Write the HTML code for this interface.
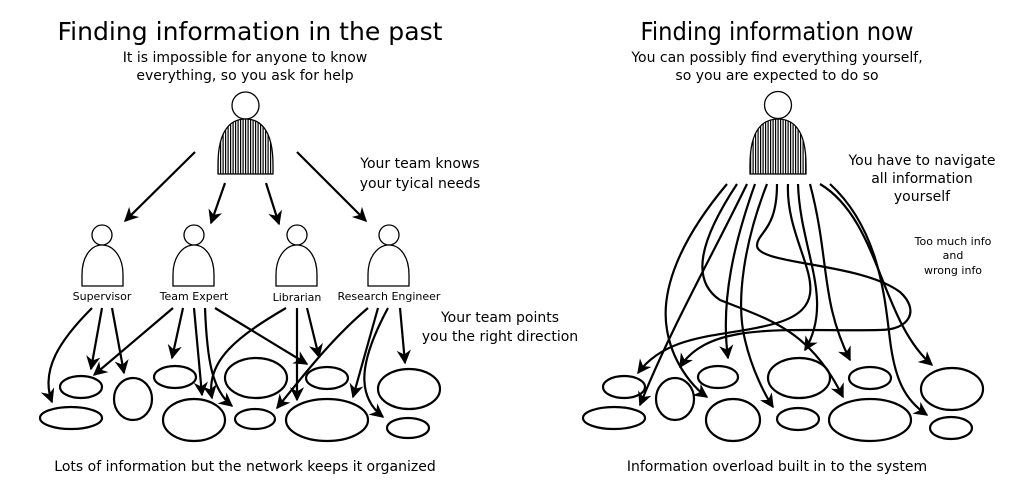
<!DOCTYPE html>
<html><head><meta charset="utf-8"><style>html,body{margin:0;padding:0;background:#fff}svg{display:block}</style></head><body>
<svg width="1024" height="492" viewBox="0 0 1024 492" xmlns="http://www.w3.org/2000/svg" font-family="DejaVu Sans, Liberation Sans, sans-serif">
<defs>
<pattern id="st" width="2.5" height="10" patternUnits="userSpaceOnUse"><rect width="2.5" height="10" fill="#fff"/><rect width="1.2" height="10" fill="#000"/></pattern>
<marker id="ar" viewBox="0 0 10 10" refX="9" refY="5" markerWidth="6.5" markerHeight="6.5" markerUnits="strokeWidth" orient="auto"><path d="M0,0 L10,5 L0,10 L3,5 Z" fill="#000"/></marker>
</defs>
<g fill="#000" text-anchor="middle">
<text x="250" y="40" font-size="25" textLength="385" lengthAdjust="spacingAndGlyphs">Finding information in the past</text>
<text x="245" y="62" font-size="14">It is impossible for anyone to know</text>
<text x="245" y="80" font-size="14">everything, so you ask for help</text>
<text x="777" y="40" font-size="25" textLength="273" lengthAdjust="spacingAndGlyphs">Finding information now</text>
<text x="777" y="62" font-size="14">You can possibly find everything yourself,</text>
<text x="777" y="80" font-size="14">so you are expected to do so</text>
<text x="420" y="168" font-size="14">Your team knows</text>
<text x="420" y="188" font-size="14">your tyical needs</text>
<text x="500" y="322" font-size="14">Your team points</text>
<text x="500" y="341" font-size="14">you the right direction</text>
<text x="245" y="471" font-size="14">Lots of information but the network keeps it organized</text>
<text x="922" y="165" font-size="14">You have to navigate</text>
<text x="922" y="183" font-size="14">all information</text>
<text x="922" y="201" font-size="14">yourself</text>
<text x="953" y="245" font-size="11">Too much info</text>
<text x="953" y="259" font-size="11">and</text>
<text x="953" y="274" font-size="11">wrong info</text>
<text x="777" y="471" font-size="14">Information overload built in to the system</text>
<text x="102" y="300" font-size="11">Supervisor</text>
<text x="194" y="300" font-size="11">Team Expert</text>
<text x="297" y="301" font-size="11">Librarian</text>
<text x="389" y="300" font-size="11">Research Engineer</text>
</g>
<g stroke="#000" stroke-width="1.3">
<circle cx="245.5" cy="105.5" r="13.5" fill="#fff"/>
<path d="M218,174 L218,165 C218,128 232,119 245.5,119 C259,119 273,128 273,165 L273,174 Z" fill="url(#st)"/>
<circle cx="778" cy="105" r="13.5" fill="#fff"/>
<path d="M750,174 L750,165 C750,128 764,119 778,119 C792,119 806,128 806,165 L806,174 Z" fill="url(#st)"/>
<g fill="#fff">
<circle cx="102" cy="235" r="10"/><path d="M82,286 L82,275 C82,255 92,245 102,245 C112,245 123,255 123,275 L123,286 Z"/>
<circle cx="194" cy="235" r="10"/><path d="M173,286 L173,275 C173,255 184,245 194,245 C204,245 214,255 214,275 L214,286 Z"/>
<circle cx="297" cy="235" r="10"/><path d="M276,286 L276,275 C276,255 287,245 297,245 C307,245 317,255 317,275 L317,286 Z"/>
<circle cx="389" cy="235" r="10"/><path d="M368,286 L368,275 C368,255 379,245 389,245 C399,245 409,255 409,275 L409,286 Z"/>
</g>
</g>
<g fill="none" stroke="#000" stroke-width="2.2">
<ellipse cx="81" cy="387" rx="21" ry="11"/><ellipse cx="133" cy="399" rx="19" ry="21"/><ellipse cx="71" cy="418" rx="31" ry="11"/>
<ellipse cx="175" cy="377" rx="21" ry="11"/><ellipse cx="256" cy="378" rx="31" ry="20"/><ellipse cx="194" cy="420" rx="31" ry="21"/>
<ellipse cx="255" cy="419" rx="20" ry="10"/><ellipse cx="327" cy="378" rx="21" ry="11"/><ellipse cx="327" cy="420" rx="41" ry="21"/>
<ellipse cx="409" cy="389" rx="31" ry="20"/><ellipse cx="408" cy="428" rx="21" ry="10"/>
<ellipse cx="624" cy="387" rx="21" ry="11"/><ellipse cx="614" cy="418" rx="31" ry="11"/><ellipse cx="675" cy="399" rx="19" ry="21"/>
<ellipse cx="718" cy="377" rx="20" ry="11"/><ellipse cx="733" cy="420" rx="27" ry="21"/><ellipse cx="799" cy="378" rx="31" ry="20"/>
<ellipse cx="798" cy="419" rx="21" ry="11"/><ellipse cx="870" cy="378" rx="21" ry="11"/><ellipse cx="870" cy="420" rx="41" ry="21"/>
<ellipse cx="952" cy="389" rx="31" ry="21"/><ellipse cx="951" cy="428" rx="21" ry="11"/>
</g>
<g fill="none" stroke="#000" stroke-width="2.2" marker-end="url(#ar)">
<path d="M195,152 L125,221"/><path d="M225,183 L211,223"/><path d="M266,183 L279,224"/><path d="M297,152 L366,221"/>
<path d="M92,308 C60,340 40,370 52,402"/><path d="M102,308 L91,369"/><path d="M112,308 L124,373"/>
<path d="M173,308 L94,375"/><path d="M183,308 L172,358"/><path d="M194,308 L202,395"/><path d="M205,308 C207,360 212,390 232,406"/><path d="M215,308 L307,364"/>
<path d="M286,308 C240,335 205,360 212,398"/><path d="M297,308 L297,400"/><path d="M307,308 L319,357"/>
<path d="M368,308 C330,340 300,380 277,408"/><path d="M378,308 L353,397"/><path d="M388,308 C360,360 355,395 383,417"/><path d="M400,308 L405,363"/>
<path d="M727,184 C680,240 660,290 667,330 C672,360 690,385 707,397"/>
<path d="M737,184 C700,240 690,280 720,300 C770,320 810,330 843,397"/>
<path d="M747,184 C710,260 670,330 640,405"/>
<path d="M755,184 C735,240 720,300 728,358"/>
<path d="M767,184 C745,240 735,300 745,340 C752,370 765,395 773,407"/>
<path d="M777,184 C777,230 758,232 757,245 C755,265 860,262 900,292 C920,310 910,330 880,330 C790,332 710,320 680,367"/>
<path d="M788,184 C785,250 845,300 780,322 C730,338 670,330 638,373"/>
<path d="M798,184 C800,250 835,300 805,350"/>
<path d="M810,184 C830,260 820,300 850,360"/>
<path d="M820,184 C880,220 880,320 932,365"/>
<path d="M830,184 C880,230 885,300 890,340 C895,380 905,400 927,415"/>
</g>
</svg>
</body></html>
